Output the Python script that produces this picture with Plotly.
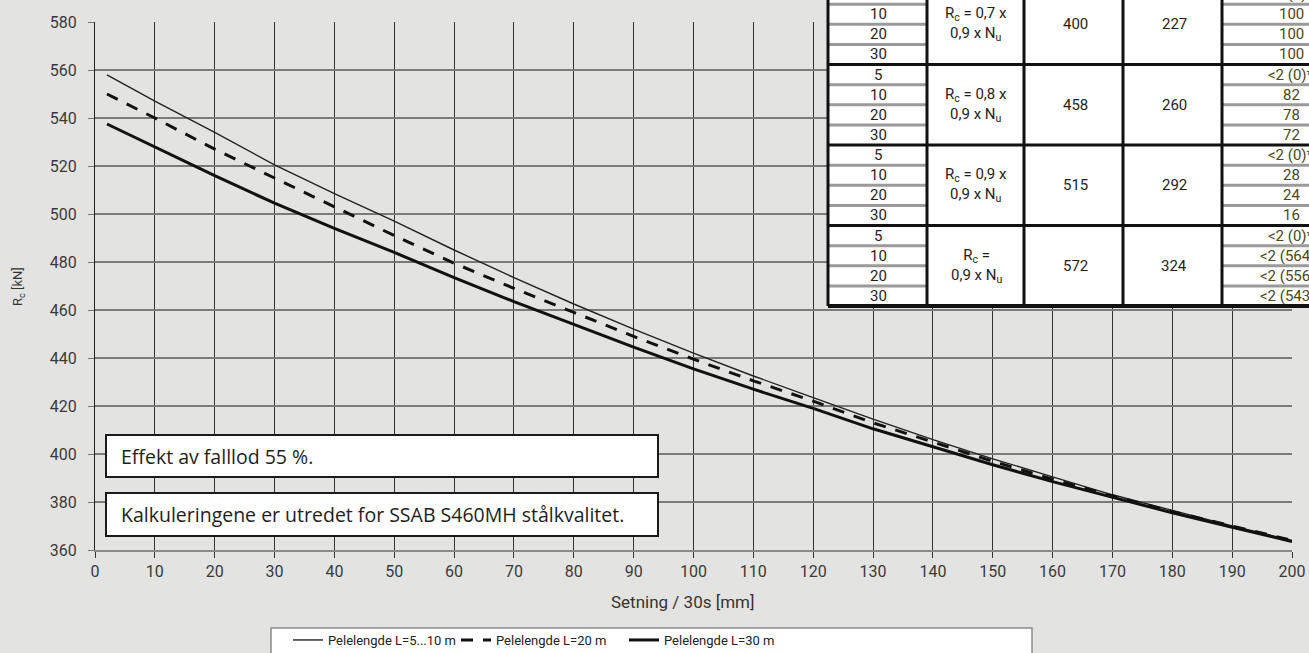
import plotly.graph_objects as go

# --- Curve data: pile resistance R_c [kN] versus set per 30 blows [mm] ---
settlement = [2, 10, 20, 30, 40, 50, 60, 70, 80, 90, 100,
              110, 120, 130, 140, 150, 160, 170, 180, 190, 200]
rc_l5_10 = [558, 547, 534, 520.5, 508.5, 497, 485, 473.5, 462.5, 452, 442,
            432.5, 423.5, 414.5, 406, 398, 390.5, 383, 376.5, 370, 364]
rc_l20 = [550, 540, 527, 515, 503, 491, 479.5, 469, 459, 449, 439.5,
          430.5, 422, 413, 405, 397, 389.5, 382.5, 376, 370, 364]
rc_l30 = [537.5, 528, 516, 504.5, 494, 484, 473.5, 463.5, 454, 444.5, 435.5,
          427, 419, 410.5, 403, 395.5, 388.5, 382, 375.5, 369.5, 363.5]

series_names = ["Pelelengde L=5...10 m", "Pelelengde L=20 m", "Pelelengde L=30 m"]

x_ticks = list(range(0, 201, 10))
y_ticks = list(range(360, 581, 20))

# --- Table data ---
pile_lengths = ["5", "10", "20", "30"]
capacity_labels = [
    "R<sub>c</sub> = 0,7 x<br>0,9 x N<sub>u</sub>",
    "R<sub>c</sub> = 0,8 x<br>0,9 x N<sub>u</sub>",
    "R<sub>c</sub> = 0,9 x<br>0,9 x N<sub>u</sub>",
    "R<sub>c</sub> =<br>0,9 x N<sub>u</sub>",
]
capacity_kn = ["400", "458", "515", "572"]
second_col = ["227", "260", "292", "324"]
last_col = [
    ["<2 (0)*", "100", "100", "100"],
    ["<2 (0)*", "82", "78", "72"],
    ["<2 (0)*", "28", "24", "16"],
    ["<2 (0)*", "<2 (564)*", "<2 (556)*", "<2 (543)*"],
]

notes = ["Effekt av falllod 55 %.",
         "Kalkuleringene er utredet for SSAB S460MH stålkvalitet."]

# --- Page geometry (pixels) ---
W, H = 1309, 653
PL, PR, PT, PB = 95, 1292, 22, 550


def fx(px):
    return (px - PL) / (PR - PL)


def fy(py):
    return (PB - py) / (PB - PT)


BG = "#e3e4e1"
FONT = "Roboto"

fig = go.Figure()
fig.add_trace(go.Scatter(x=settlement, y=rc_l5_10, mode="lines", name=series_names[0],
                         line=dict(color="#222222", width=1.4)))
fig.add_trace(go.Scatter(x=settlement, y=rc_l20, mode="lines", name=series_names[1],
                         line=dict(color="#111111", width=3, dash="12px,10px")))
fig.add_trace(go.Scatter(x=settlement, y=rc_l30, mode="lines", name=series_names[2],
                         line=dict(color="#111111", width=3)))

shapes = []
annotations = []

# Note boxes inside the plot
note_boxes = [(435, 477), (493, 536)]
for text, (top, bottom) in zip(notes, note_boxes):
    shapes.append(dict(type="rect", xref="paper", yref="paper",
                       x0=fx(106), x1=fx(658), y0=fy(bottom), y1=fy(top),
                       fillcolor="white", line=dict(color="#1a1a1a", width=2), layer="above"))
    annotations.append(dict(text=text, xref="paper", yref="paper",
                            x=fx(119), y=fy((top + bottom) / 2), xanchor="left", yanchor="middle",
                            showarrow=False, font=dict(family="Open Sans", size=19.5, color="#1e1e1e")))

# Table overlay in the upper right corner
col_edges = [828, 927, 1024, 1123, 1222, 1370]
group_tops = [-16, 64.5, 145, 225.5, 306]
row_h = (group_tops[1] - group_tops[0]) / 4
tbl_top, tbl_bottom = -30, 306

shapes.append(dict(type="rect", xref="paper", yref="paper",
                   x0=fx(col_edges[0]), x1=fx(col_edges[-1]), y0=fy(tbl_bottom), y1=fy(tbl_top),
                   fillcolor="white", line=dict(width=0), layer="above"))

# thin grey row separators in first and last columns
for g in range(4):
    for r in range(1, 4):
        yy = group_tops[g] + r * row_h
        for c0, c1 in [(col_edges[0], col_edges[1]), (col_edges[4], col_edges[5])]:
            shapes.append(dict(type="line", xref="paper", yref="paper",
                               x0=fx(c0), x1=fx(c1), y0=fy(yy), y1=fy(yy),
                               line=dict(color="#9a9a9a", width=3), layer="above"))
# black group separators
for yy in group_tops[:-1]:
    shapes.append(dict(type="line", xref="paper", yref="paper",
                       x0=fx(col_edges[0]), x1=fx(col_edges[-1]), y0=fy(yy), y1=fy(yy),
                       line=dict(color="#111111", width=3), layer="above"))
shapes.append(dict(type="line", xref="paper", yref="paper",
                   x0=fx(col_edges[0]), x1=fx(col_edges[-1]), y0=fy(tbl_bottom), y1=fy(tbl_bottom),
                   line=dict(color="#111111", width=4), layer="above"))
# column borders
for cx in col_edges[:-1]:
    shapes.append(dict(type="line", xref="paper", yref="paper",
                       x0=fx(cx), x1=fx(cx), y0=fy(tbl_bottom), y1=fy(tbl_top),
                       line=dict(color="#111111", width=3), layer="above"))

col_centers = [878, 976, 1075, 1174, 1291]
for g in range(4):
    gmid = (group_tops[g] + group_tops[g + 1]) / 2
    for r in range(4):
        ymid = group_tops[g] + (r + 0.5) * row_h
        annotations.append(dict(text=pile_lengths[r], xref="paper", yref="paper",
                                x=fx(col_centers[0]), y=fy(ymid), xanchor="center", yanchor="middle",
                                showarrow=False, font=dict(family=FONT, size=15, color="#1e1e1e")))
        annotations.append(dict(text=last_col[g][r], xref="paper", yref="paper",
                                x=fx(col_centers[4]), y=fy(ymid), xanchor="center", yanchor="middle",
                                showarrow=False, font=dict(family=FONT, size=15, color="#4a4720")))
    annotations.append(dict(text=capacity_labels[g], xref="paper", yref="paper",
                            x=fx(col_centers[1]), y=fy(gmid), xanchor="center", yanchor="middle",
                            showarrow=False, font=dict(family=FONT, size=15, color="#1e1e1e")))
    annotations.append(dict(text=capacity_kn[g], xref="paper", yref="paper",
                            x=fx(col_centers[2]), y=fy(gmid), xanchor="center", yanchor="middle",
                            showarrow=False, font=dict(family=FONT, size=15, color="#1e1e1e")))
    annotations.append(dict(text=second_col[g], xref="paper", yref="paper",
                            x=fx(col_centers[3]), y=fy(gmid), xanchor="center", yanchor="middle",
                            showarrow=False, font=dict(family=FONT, size=15, color="#1e1e1e")))

# Axis titles
annotations.append(dict(text="Setning / 30s [mm]", xref="paper", yref="paper",
                        x=fx(683), y=fy(602), xanchor="center", yanchor="middle",
                        showarrow=False, font=dict(family=FONT, size=17, color="#333333")))
annotations.append(dict(text="R<sub>c</sub> [kN]", xref="paper", yref="paper",
                        x=fx(18), y=fy(287), xanchor="center", yanchor="middle", textangle=-90,
                        showarrow=False, font=dict(family=FONT, size=13, color="#333333")))

# Legend frame
shapes.append(dict(type="rect", xref="paper", yref="paper",
                   x0=fx(271), x1=fx(1032), y0=fy(665), y1=fy(628),
                   fillcolor="white", line=dict(color="#8a8a8a", width=1.5), layer="above"))

fig.update_layout(
    width=W, height=H,
    margin=dict(l=PL, r=W - PR, t=PT, b=H - PB, autoexpand=False),
    paper_bgcolor=BG, plot_bgcolor=BG,
    font=dict(family=FONT, color="#333333"),
    shapes=shapes, annotations=annotations,
    showlegend=True,
    legend=dict(orientation="h", x=fx(288), y=fy(625), xanchor="left", yanchor="top",
                bgcolor="rgba(0,0,0,0)", font=dict(family=FONT, size=13, color="#222222"),
                entrywidth=123, entrywidthmode="pixels",
                traceorder="normal"),
)
fig.update_xaxes(range=[0, 200], tickvals=x_ticks, ticks="outside", ticklen=6,
                 tickcolor="#333333", showgrid=True, gridcolor="#333333", gridwidth=1.2,
                 showline=True, linecolor="#8a8a8a", linewidth=2, zeroline=False,
                 tickfont=dict(family=FONT, size=16, color="#3a3a3a"))
fig.update_yaxes(range=[360, 580], tickvals=y_ticks, ticks="outside", ticklen=6,
                 tickcolor="#777777", showgrid=True, gridcolor="#7a7a7a", gridwidth=1.5,
                 showline=True, linecolor="#222222", linewidth=1.3, zeroline=False,
                 ticklabelstandoff=8,
                 tickfont=dict(family=FONT, size=16, color="#3a3a3a"))

fig.write_html("out.html")
